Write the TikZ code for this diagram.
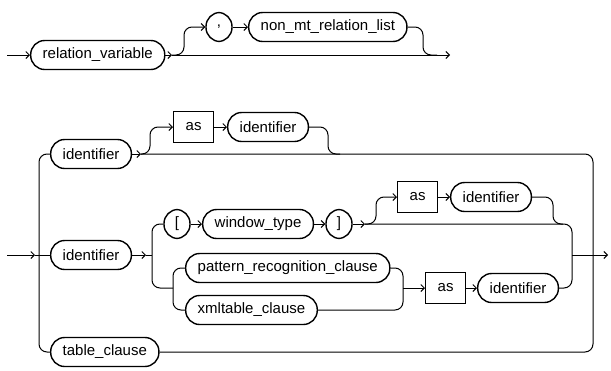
\documentclass[tikz,border=0pt]{standalone}
\usepackage{fontspec}
\setmainfont{Liberation Sans}
\usetikzlibrary{arrows.meta}

\begin{document}
\begin{tikzpicture}[x=1pt,y=-1pt,line width=1pt,
  >={Straight Barb[length=3.5pt,width=7pt]},
  term/.style={draw,line width=1.4pt,rounded corners=14pt,minimum height=29pt,inner xsep=12pt,font=\fontsize{15}{15}\selectfont},
  sym/.style={term,minimum width=26pt,inner xsep=2pt},
  kw/.style={draw,line width=1.4pt,minimum height=31pt,inner xsep=12pt,font=\fontsize{15}{15}\selectfont},
  rail/.style={rounded corners=8pt}]
  \useasboundingbox (0,0) rectangle (611,370);

  % first rule
  \node[term,anchor=west] (relvar) at (30,55) {relation\_variable};
  \node[sym] (comma) at (219,27) {,};
  \node[term,anchor=west] (nonmt) at (248,27) {non\_mt\_relation\_list};
  \draw [->] (7,55) -- (relvar);
  \draw [->] (relvar) -- (172,55);
  \draw [->] (172,55) -- (450,55);
  \draw [->,rail] (172,55) -- (184,55) -- (184,27) -- (comma);
  \draw [->] (comma) -- (nonmt);
  \draw [rail] (nonmt) -- (423,27) -- (423,55) -- (437,55);

  % second rule
  \node[term,anchor=west] (idtop) at (50,154) {identifier};
  \node[kw,anchor=west] (astop) at (173,127) {as};
  \node[term,anchor=west] (idastop) at (227,127) {identifier};
  \node[term,anchor=west] (idmid) at (50,255) {identifier};
  \node[sym] (lbrack) at (177,224) {[};
  \node[term,anchor=west] (wintype) at (202,224) {window\_type};
  \node[sym] (rbrack) at (339,224) {]};
  \node[kw,anchor=west] (aswin) at (397,197) {as};
  \node[term,anchor=west] (idwin) at (450,197) {identifier};
  \node[term,anchor=west] (patrec) at (185,268) {pattern\_recognition\_clause};
  \node[term,anchor=west] (xmltab) at (185,310) {xmltable\_clause};
  \node[kw,anchor=west] (asclause) at (425,288) {as};
  \node[term,anchor=west] (idclause) at (477,288) {identifier};
  \node[term,anchor=west] (tabcl) at (50,352) {table\_clause};

  \draw [->] (7,255) -- (35,255);
  \draw (35,255) -- (idmid);
  \draw [rail] (idtop) -- (39,154) -- (39,352) -- (tabcl);
  \draw [->] (idtop) -- (141,154);
  \draw [rail] (141,154) -- (593,154) -- (593,352) -- (tabcl);
  \draw [->,rail] (141,154) -- (150,154) -- (150,127) -- (astop);
  \draw [->] (astop) -- (idastop);
  \draw [rail] (idastop) -- (328,127) -- (328,154) -- (340,154);

  \draw [->] (idmid) -- (146,255);
  \draw (146,255) -- (152,255);
  \draw [rail] (lbrack) -- (152,224) -- (152,288) -- (173,288);
  \draw [rail] (patrec) -- (173,268) -- (173,310) -- (xmltab);
  \draw [->] (lbrack) -- (wintype);
  \draw [->] (wintype) -- (rbrack);
  \draw [->] (rbrack) -- (365,224);
  \draw [rail] (365,224) -- (572,224) -- (572,288) -- (idclause);
  \draw [->,rail] (365,224) -- (376,224) -- (376,197) -- (aswin);
  \draw [->] (aswin) -- (idwin);
  \draw [rail] (idwin) -- (553,197) -- (553,224) -- (563,224);
  \draw [rail] (patrec) -- (403,268) -- (403,310) -- (xmltab);
  \draw [->] (403,288) -- (asclause);
  \draw [->] (asclause) -- (idclause);
  \draw (572,255) -- (593,255);
  \draw [->] (593,255) -- (608,255);
\end{tikzpicture}
\end{document}
